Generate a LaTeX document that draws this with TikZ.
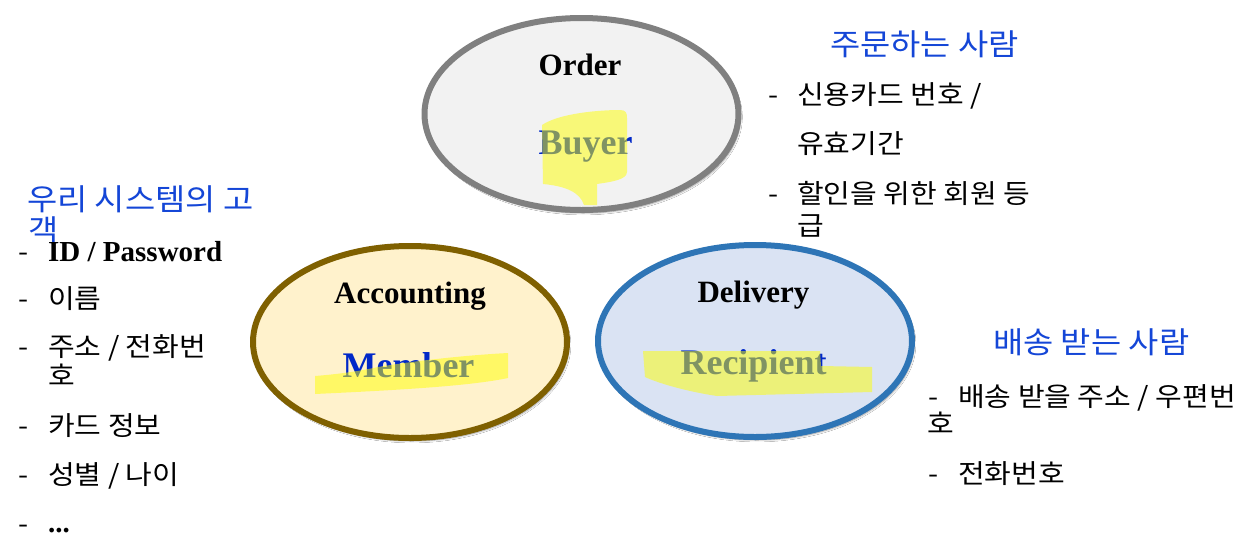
\documentclass[tikz,border=0pt]{standalone}
\usepackage{fontspec}
\setmainfont{Liberation Serif}
\newfontfamily\kr[FakeStretch=1.095]{Noto Sans CJK KR}
\usetikzlibrary{shapes.geometric,shadows.blur}
\definecolor{ordfill}{RGB}{242,242,242}
\definecolor{orddraw}{RGB}{128,128,128}
\definecolor{accfill}{RGB}{255,242,204}
\definecolor{accdraw}{RGB}{127,96,0}
\definecolor{delfill}{RGB}{218,227,243}
\definecolor{deldraw}{RGB}{46,117,182}
\definecolor{txtblue}{RGB}{0,40,200}
\definecolor{ttlblue}{RGB}{20,70,215}
\definecolor{hl}{RGB}{255,255,0}
\begin{document}
\begin{tikzpicture}[x=1pt,y=-1pt,
  role/.style={ellipse, line width=6pt, minimum width=314pt, minimum height=192pt, inner sep=0pt,
    blur shadow={shadow xshift=2pt, shadow yshift=-3pt, shadow blur steps=6, shadow opacity=40}},
  ttl/.style={font=\fontsize{31}{31}\selectfont\bfseries, anchor=base, inner sep=0pt},
  sub/.style={font=\fontsize{36}{36}\selectfont\bfseries, text=txtblue, anchor=base, inner sep=0pt},
  hlt/.style={fill=hl, fill opacity=0.5},
  kt/.style={font=\kr\fontsize{30}{30}\selectfont, text=ttlblue, anchor=base west, inner sep=0pt},
  kl/.style={font=\kr\fontsize{26.5}{26.5}\selectfont, anchor=base west, inner sep=0pt},
  bl/.style={font=\fontsize{29}{29}\selectfont\bfseries, anchor=base west, inner sep=0pt},
]
\useasboundingbox[fill=white] (0,0) rectangle (1250,555);

% ellipses
\node[role, draw=orddraw, fill=ordfill] (order) at (581.5,114) {};
\node[role, draw=accdraw, fill=accfill] (acc) at (410,342) {};
\node[role, draw=deldraw, fill=delfill] (del) at (755,341) {};

% ellipse labels
\node[ttl] (ordert) at (580,75) {Order};
\node[sub] (buyer) at (585.5,154) {Buyer};
\node[ttl] (acct) at (410,303) {Accounting};
\node[sub] (member) at (408.5,377) {Member};
\node[ttl] (delt) at (753.5,302) {Delivery};
\node[sub] (recip) at (753.5,374) {Recipient};

% highlights
\fill[hlt] (542,125) .. controls (560,113) and (600,110) .. (620,110)
  .. controls (626,110) and (627,113) .. (627,118) -- (627,172)
  .. controls (627,180) and (610,182) .. (597,184) -- (597,205) -- (584,205)
  .. controls (580,192) and (565,186) .. (543,184) -- cycle;
\fill[hlt] (315,376) .. controls (340,374) and (360,371) .. (378,367)
  .. controls (420,360) and (470,355) .. (508,353) -- (508,378)
  .. controls (470,386) and (400,390) .. (315,394) -- cycle;
\fill[hlt] (643,351) -- (820,351) -- (821,366) -- (872,367) -- (872,392) -- (717,396)
  .. controls (690,392) and (660,384) .. (645,377) -- cycle;

% top right: buyer
\node[kt] (t1) at (830,55) {주문하는 사람};
\node[kl] (d1) at (768,104) {-};
\node[kl] (r1) at (797,104) {신용카드 번호 /};
\node[kl] (r1b) at (797,153) {유효기간};
\node[kl] (d2) at (768,203) {-};
\node[kl] (r2) at (797,203) {할인을 위한 회원 등};
\node[kl] (r2b) at (797,235) {급};

% left: member
\node[kt] (t2) at (27,210) {우리 시스템의 고};
\node[kt] (t2b) at (28,241) {객};
\node[kl] (e1) at (18,261) {-};
\node[bl] (l1) at (48,261) {ID / Password};
\node[kl] (e2) at (18,308) {-};
\node[kl] (l2) at (48,308) {이름};
\node[kl] (e3) at (18,356) {-};
\node[kl] (l3) at (48,356) {주소 / 전화번};
\node[kl] (l3b) at (48,385) {호};
\node[kl] (e4) at (18,435) {-};
\node[kl] (l4) at (48,435) {카드 정보};
\node[kl] (e5) at (18,484) {-};
\node[kl] (l5) at (48,484) {성별 / 나이};
\node[kl] (e6) at (18,533) {-};
\node[bl] (l6) at (48,532) {...};

% bottom right: recipient
\node[kt] (t3) at (993,353) {배송 받는 사람};
\node[kl] (f1) at (928,406) {-};
\node[kl] (b1) at (958,406) {배송 받을 주소 / 우편번};
\node[kl] (b1b) at (927,433) {호};
\node[kl] (f2) at (928,483) {-};
\node[kl] (b2) at (958,483) {전화번호};
\end{tikzpicture}
\end{document}
